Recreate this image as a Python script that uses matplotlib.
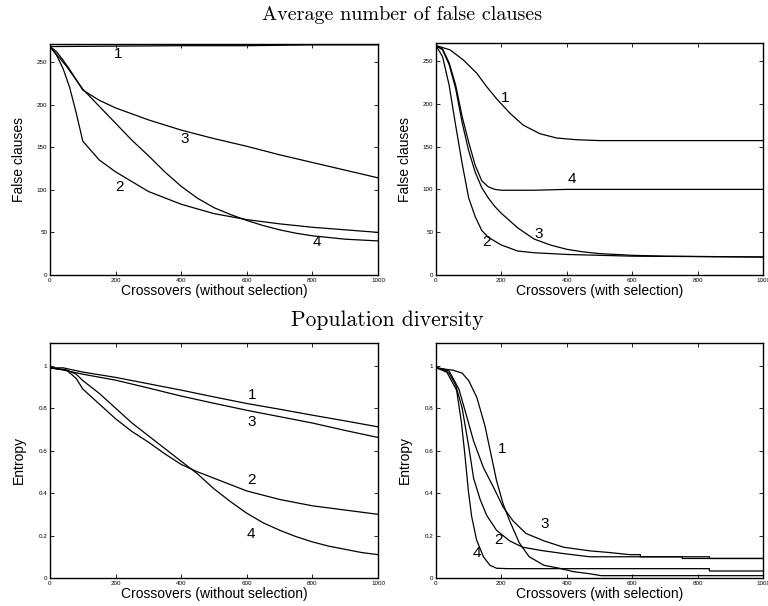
import matplotlib
matplotlib.use("Agg")
import matplotlib.pyplot as plt
from matplotlib.ticker import MultipleLocator, FuncFormatter

plt.rcParams["font.family"] = ["Liberation Sans", "DejaVu Sans"]

# --- false clauses, without selection (top left)
fa_x1 = [0, 200, 400, 600, 800, 1000]
fa_y1 = [268, 268.5, 269, 269, 270, 270]
fa_x2 = [0, 20, 40, 60, 80, 100, 150, 200, 300, 400, 500, 600, 700, 800, 900, 1000]
fa_y2 = [268, 258, 242, 220, 190, 157, 135, 121, 98, 83, 72, 65, 60, 56, 53, 50]
fa_x3 = [0, 20, 40, 60, 80, 100, 150, 200, 300, 400, 500, 600, 700, 800, 900, 1000]
fa_y3 = [268, 262, 252, 241, 229, 217, 205, 196, 182, 170, 160, 151, 141, 132, 123, 114]
fa_x4 = [0, 50, 100, 150, 200, 250, 300, 350, 400, 450, 500, 550, 600, 650, 700, 750,
         800, 850, 900, 950, 1000]
fa_y4 = [268, 245, 218, 198, 178, 158, 140, 121, 104, 90, 79, 71, 64, 58, 53, 49,
         46, 44, 42, 41, 40]

# --- false clauses, with selection (top right)
fb_x1 = [0, 43, 84, 124, 155, 185, 226, 267, 318, 369, 430, 500, 1000]
fb_y1 = [268, 263, 251, 236, 220, 206, 189, 175, 165, 160, 158, 157, 157]
fb_x2 = [0, 20, 40, 60, 80, 100, 120, 140, 160, 200, 250, 300, 400, 500, 600, 1000]
fb_y2 = [268, 255, 222, 175, 130, 90, 68, 52, 44, 35, 28, 26, 24, 23, 22, 21]
fb_x3 = [0, 20, 40, 60, 80, 100, 120, 140, 160, 180, 200, 250, 300, 350, 400, 450,
         500, 600, 700, 1000]
fb_y3 = [268, 263, 246, 218, 178, 145, 120, 102, 90, 80, 72, 55, 42, 35, 30, 27,
         25, 23, 22, 21]
fb_x4 = [0, 20, 40, 60, 80, 100, 120, 140, 160, 180, 200, 300, 400, 1000]
fb_y4 = [268, 264, 248, 222, 185, 155, 128, 110, 103, 100, 99, 99, 100, 100]

# --- entropy, without selection (bottom left)
ea_x1 = [0, 40, 100, 200, 300, 400, 500, 600, 700, 800, 900, 1000]
ea_y1 = [0.99, 0.99, 0.97, 0.945, 0.915, 0.885, 0.853, 0.822, 0.795, 0.767, 0.74, 0.712]
ea_x3 = [0, 40, 100, 200, 300, 400, 500, 600, 700, 800, 900, 1000]
ea_y3 = [0.99, 0.98, 0.96, 0.932, 0.895, 0.857, 0.823, 0.79, 0.76, 0.73, 0.695, 0.662]
ea_x2 = [0, 50, 80, 100, 150, 200, 250, 300, 350, 400, 450, 500, 550, 600, 650, 700,
         800, 900, 1000]
ea_y2 = [0.99, 0.98, 0.94, 0.89, 0.82, 0.75, 0.69, 0.64, 0.585, 0.535, 0.50, 0.47,
         0.44, 0.41, 0.39, 0.37, 0.34, 0.32, 0.30]
ea_x4 = [0, 50, 80, 100, 150, 200, 250, 300, 350, 400, 450, 500, 550, 600, 650, 700,
         750, 800, 850, 900, 950, 1000]
ea_y4 = [0.99, 0.98, 0.96, 0.93, 0.87, 0.80, 0.73, 0.67, 0.61, 0.55, 0.49, 0.42,
         0.36, 0.305, 0.26, 0.225, 0.195, 0.17, 0.15, 0.135, 0.12, 0.11]

# --- entropy, with selection (bottom right)
eb_x1 = [0, 45, 50, 80, 100, 125, 150, 165, 185, 205, 225, 255, 285, 330, 380, 420,
         470, 505, 1000]
eb_y1 = [0.99, 0.98, 0.98, 0.965, 0.93, 0.85, 0.715, 0.605, 0.46, 0.35, 0.27, 0.165,
         0.10, 0.06, 0.045, 0.03, 0.02, 0.011, 0.011]
eb_x2 = [0, 20, 40, 60, 80, 100, 115, 135, 155, 185, 225, 265, 320, 390, 470, 753,
         753, 1000]
eb_y2 = [0.99, 0.985, 0.965, 0.91, 0.80, 0.62, 0.47, 0.37, 0.295, 0.225, 0.175, 0.145,
         0.13, 0.115, 0.10, 0.10, 0.092, 0.092]
eb_x3 = [0, 20, 40, 70, 95, 115, 145, 175, 205, 235, 275, 330, 390, 470, 530, 593,
         625, 625, 836, 836, 1000]
eb_y3 = [0.99, 0.985, 0.975, 0.89, 0.755, 0.645, 0.52, 0.43, 0.335, 0.27, 0.21, 0.175,
         0.145, 0.128, 0.12, 0.11, 0.11, 0.10, 0.10, 0.092, 0.092]
eb_x4 = [0, 33, 63, 78, 89, 99, 109, 124, 145, 165, 185, 220, 836, 836, 1000]
eb_y4 = [0.99, 0.97, 0.885, 0.73, 0.57, 0.41, 0.29, 0.18, 0.10, 0.06, 0.046, 0.044,
         0.044, 0.033, 0.033]

# curve number labels (x, y, text)
lab_fa = [(208, 259, "1"), (212, 103, "2"), (412, 159, "3"), (814, 39, "4")]
lab_fb = [(212, 207, "1"), (155, 38, "2"), (315, 48, "3"), (414, 112, "4")]
lab_ea = [(615, 0.862, "1"), (615, 0.46, "2"), (615, 0.736, "3"), (612, 0.209, "4")]
lab_eb = [(202, 0.61, "1"), (190, 0.18, "2"), (333, 0.255, "3"), (124, 0.12, "4")]

W, H = 768, 606
fig = plt.figure(figsize=(W / 100, H / 100), dpi=100)


def make_axes(px_left, px_top, px_right, px_bottom):
    return fig.add_axes([px_left / W, 1 - px_bottom / H,
                         (px_right - px_left) / W, (px_bottom - px_top) / H])


fmt = FuncFormatter(lambda v, p: f"{v:g}")


def style(ax, ymax, ystep, xlabel, ylabel):
    ax.set_xlim(0, 1000)
    ax.set_ylim(0, ymax)
    ax.xaxis.set_major_locator(MultipleLocator(200))
    ax.yaxis.set_major_locator(MultipleLocator(ystep))
    ax.xaxis.set_major_formatter(fmt)
    ax.yaxis.set_major_formatter(fmt)
    ax.tick_params(direction="in", top=True, right=True, length=3, width=0.6,
                   labelsize=4.5, pad=2)
    for s in ax.spines.values():
        s.set_linewidth(1.0)
    ax.set_xlabel(xlabel, fontsize=10)
    ax.set_ylabel(ylabel, fontsize=10)
    ax.xaxis.set_label_coords(0.5, -0.04)
    ax.yaxis.set_label_coords(-0.074, 0.5)


def curves(ax, data, labels):
    for x, y in data:
        ax.plot(x, y, color="black", lw=0.9)
    for x, y, t in labels:
        ax.text(x, y, t, fontsize=11, ha="center", va="center")


ax1 = make_axes(50, 44, 378, 275)
curves(ax1, [(fa_x1, fa_y1), (fa_x2, fa_y2), (fa_x3, fa_y3), (fa_x4, fa_y4)], lab_fa)
style(ax1, 271, 50, "Crossovers (without selection)", "False clauses")

ax2 = make_axes(436, 43, 763, 275)
curves(ax2, [(fb_x1, fb_y1), (fb_x2, fb_y2), (fb_x3, fb_y3), (fb_x4, fb_y4)], lab_fb)
style(ax2, 271, 50, "Crossovers (with selection)", "False clauses")

ax3 = make_axes(50, 343, 378, 578)
curves(ax3, [(ea_x1, ea_y1), (ea_x2, ea_y2), (ea_x3, ea_y3), (ea_x4, ea_y4)], lab_ea)
style(ax3, 1.107, 0.2, "Crossovers (without selection)", "Entropy")

ax4 = make_axes(436, 343, 763, 578)
curves(ax4, [(eb_x1, eb_y1), (eb_x2, eb_y2), (eb_x3, eb_y3), (eb_x4, eb_y4)], lab_eb)
style(ax4, 1.107, 0.2, "Crossovers (with selection)", "Entropy")

fig.text(401.7 / W, 1 - 15 / H, "Average number of false clauses", family="cmr10",
         fontsize=14.5, ha="center", va="center")
fig.text(387 / W, 1 - 320 / H, "Population diversity", family="cmr10",
         fontsize=15.5, ha="center", va="center")

fig.savefig("out.png", dpi=100)
